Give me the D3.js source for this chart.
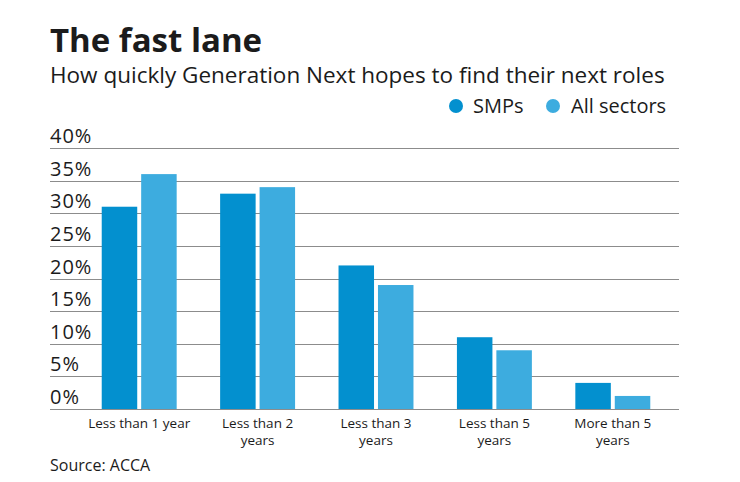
<!DOCTYPE html>
<html>
<head>
<meta charset="utf-8">
<script src="https://cdn.jsdelivr.net/npm/d3@7"></script>
<style>
  body { margin: 0; background: #fff; }
  svg { display: block; }
  text { font-family: "Open Sans", Lato, sans-serif; fill: #1b1b1b; }
  .grid line { stroke: #8c8c8c; stroke-width: 1; }
</style>
</head>
<body>
<svg id="chart" width="740" height="482"></svg>
<script>
const categories = ['Less than 1 year', 'Less than 2 years', 'Less than 3 years', 'Less than 5 years', 'More than 5 years'];
const seriesNames = ['SMPs', 'All sectors'];
const smps = [31, 33, 22, 11, 4];
const allSectors = [36, 34, 19, 9, 2];
const yTicks = [0, 5, 10, 15, 20, 25, 30, 35, 40];

const colors = { 'SMPs': '#0390cf', 'All sectors': '#3dacdf' };

const svg = d3.select('#chart');

// title block
svg.append('text')
  .attr('x', 50).attr('y', 52)
  .style('font-size', '33px').style('font-weight', 'bold')
  .text('The fast lane');

svg.append('text')
  .attr('x', 50).attr('y', 83)
  .style('font-size', '22.5px')
  .text('How quickly Generation Next hopes to find their next roles');

const y = d3.scaleLinear().domain([0, 40]).range([409, 148]);
const x0 = d3.scaleBand().domain(categories).range([80, 672]).paddingInner(0.367).paddingOuter(0.1835);
const x1 = d3.scaleBand().domain(seriesNames).range([0, x0.bandwidth()]).paddingInner(0.1);

// gridlines
const grid = svg.append('g').attr('class', 'grid');
grid.selectAll('line').data(yTicks).join('line')
  .attr('x1', 50).attr('x2', 679)
  .attr('y1', d => Math.round(y(d)) + 0.5)
  .attr('y2', d => Math.round(y(d)) + 0.5);

grid.selectAll('text').data(yTicks).join('text')
  .attr('x', 50)
  .attr('y', d => y(d) - 5)
  .style('font-size', '20px')
  .style('letter-spacing', '1px')
  .text(d => d + '%');

// bars
const rows = categories.map((c, i) => ({ cat: c, values: [smps[i], allSectors[i]] }));
const groups = svg.append('g').selectAll('g').data(rows).join('g')
  .attr('transform', d => `translate(${x0(d.cat)},0)`);

groups.selectAll('rect')
  .data(d => d.values.map((v, j) => ({ key: seriesNames[j], value: v })))
  .join('rect')
  .attr('x', d => x1(d.key))
  .attr('width', x1.bandwidth())
  .attr('y', d => y(d.value))
  .attr('height', d => y(0) - y(d.value))
  .attr('fill', d => colors[d.key]);

// category labels, wrapped like the original
const labelLines = {
  'Less than 1 year': ['Less than 1 year'],
  'Less than 2 years': ['Less than 2', 'years'],
  'Less than 3 years': ['Less than 3', 'years'],
  'Less than 5 years': ['Less than 5', 'years'],
  'More than 5 years': ['More than 5', 'years']
};
const xl = svg.append('g');
categories.forEach(c => {
  const t = xl.append('text')
    .attr('text-anchor', 'middle')
    .attr('x', x0(c) + x0.bandwidth() / 2)
    .attr('y', 428)
    .style('font-size', '13.5px');
  labelLines[c].forEach((s, i) => {
    t.append('tspan')
      .attr('x', x0(c) + x0.bandwidth() / 2)
      .attr('dy', i === 0 ? 0 : 17)
      .text(s);
  });
});

// legend
const legendItems = [{ name: 'SMPs', cx: 456, tx: 473 }, { name: 'All sectors', cx: 553, tx: 571 }];
const legend = svg.append('g');
legendItems.forEach(l => {
  legend.append('circle').attr('cx', l.cx).attr('cy', 106).attr('r', 7).attr('fill', colors[l.name]);
  legend.append('text').attr('x', l.tx).attr('y', 113).style('font-size', '20px').text(l.name);
});

svg.append('text')
  .attr('x', 50).attr('y', 471)
  .style('font-size', '16px')
  .text('Source: ACCA');
</script>
</body>
</html>
